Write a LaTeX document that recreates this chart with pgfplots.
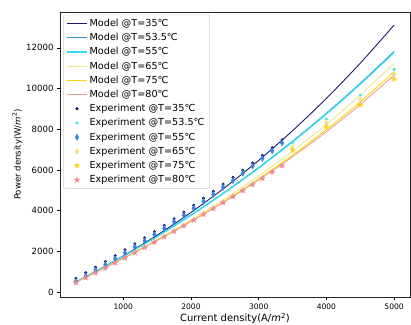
\documentclass[border=0pt]{standalone}
\usepackage{pgfplots}
\pgfplotsset{compat=1.18}
\usepackage{fontspec}
\setmainfont{DejaVu Sans}
\definecolor{m35}{HTML}{1C1C6E}
\definecolor{m535}{HTML}{2E94D0}
\definecolor{m55}{HTML}{33DDF0}
\definecolor{m65}{HTML}{F0E68C}
\definecolor{m75}{HTML}{FFD700}
\definecolor{m80}{HTML}{E8A090}
\definecolor{e35}{HTML}{101070}
\definecolor{e535}{HTML}{40E0E0}
\definecolor{e55}{HTML}{3A80E0}
\definecolor{e65}{HTML}{EEE08A}
\definecolor{e75}{HTML}{FFD020}
\definecolor{e80}{HTML}{EE8A96}
\pgfdeclareplotmark{fstar}{%
  \pgfpathmoveto{\pgfqpointpolar{90}{\pgfplotmarksize}}%
  \pgfpathlineto{\pgfqpointpolar{126}{0.42\pgfplotmarksize}}%
  \pgfpathlineto{\pgfqpointpolar{162}{\pgfplotmarksize}}%
  \pgfpathlineto{\pgfqpointpolar{198}{0.42\pgfplotmarksize}}%
  \pgfpathlineto{\pgfqpointpolar{234}{\pgfplotmarksize}}%
  \pgfpathlineto{\pgfqpointpolar{270}{0.42\pgfplotmarksize}}%
  \pgfpathlineto{\pgfqpointpolar{306}{\pgfplotmarksize}}%
  \pgfpathlineto{\pgfqpointpolar{342}{0.42\pgfplotmarksize}}%
  \pgfpathlineto{\pgfqpointpolar{18}{\pgfplotmarksize}}%
  \pgfpathlineto{\pgfqpointpolar{54}{0.42\pgfplotmarksize}}%
  \pgfpathclose
  \pgfusepathqfillstroke}
\begin{document}
\begin{tikzpicture}
\begin{axis}[
  name=ax,
  scale only axis,
  width=350bp, height=285bp,
  xmin=65, xmax=5235, ymin=-240, ymax=13760,
  xtick={1000,2000,3000,4000,5000},
  ytick={0,2000,4000,6000,8000,10000,12000},
  xtick pos=bottom, ytick pos=left,
  tick align=outside,
  major tick length=3bp,
  tick style={black, line width=0.6bp},
  axis line style={line width=0.7bp, black!85},
  scaled ticks=false,
  /pgf/number format/assume math mode=true,
  /pgf/number format/1000 sep={},
  xticklabel style={font=\fontsize{7.6}{9}\selectfont},
  yticklabel style={font=\fontsize{8.6}{9}\selectfont},
  xlabel={Current density(A/\textit{m}\textsuperscript{2})},
  ylabel={Power density(W/\textit{m}\textsuperscript{2})},
  xlabel style={font=\fontsize{10}{11}\selectfont, yshift=3bp},
  ylabel style={font=\fontsize{8.6}{10}\selectfont, yshift=-3bp},
  legend cell align=left,
  legend image code/.code={\draw[mark repeat=2,mark phase=2,#1] plot coordinates {(0bp,0bp) (10bp,0bp) (20bp,0bp)};},
  legend style={at={(0.009,0.99)}, anchor=north west, draw=black!20, rounded corners=2bp,
    fill=white,
    font=\fontsize{9.7}{10}\selectfont, row sep=1.4bp, inner xsep=3bp, inner ysep=2bp},
]
% Models
\addplot[m35, line width=0.9bp, smooth, mark=none] coordinates {
(300,500)(500,849)(1000,1778)(1500,2797)(2000,3913)(2500,5135)(3000,6471)(3500,7929)(4000,9517)(4500,11244)(5000,13118)};
\addlegendentry{Model @T=35℃}
\addplot[m535, line width=0.9bp, smooth, mark=none] coordinates {
(300,502)(500,849)(1000,1761)(1500,2741)(2000,3792)(2500,4919)(3000,6124)(3500,7414)(4000,8790)(4500,10258)(5000,11823)};
\addlegendentry{Model @T=53.5℃}
\addplot[m55, line width=1.3bp, smooth, mark=none] coordinates {
(300,500)(500,846)(1000,1754)(1500,2730)(2000,3777)(2500,4899)(3000,6100)(3500,7384)(4000,8755)(4500,10217)(5000,11776)};
\addlegendentry{Model @T=55℃}
\addplot[m65, line width=0.9bp, smooth, mark=none] coordinates {
(300,486)(500,817)(1000,1674)(1500,2581)(2000,3549)(2500,4589)(3000,5711)(3500,6926)(4000,8244)(4500,9677)(5000,11234)};
\addlegendentry{Model @T=65℃}
\addplot[m75, line width=0.9bp, smooth, mark=none] coordinates {
(300,486)(500,815)(1000,1661)(1500,2549)(2000,3489)(2500,4492)(3000,5569)(3500,6728)(4000,7984)(4500,9344)(5000,10820)};
\addlegendentry{Model @T=75℃}
\addplot[m80, line width=0.9bp, smooth, mark=none] coordinates {
(300,486)(500,815)(1000,1657)(1500,2537)(2000,3466)(2500,4454)(3000,5513)(3500,6652)(4000,7883)(4500,9215)(5000,10660)};
\addlegendentry{Model @T=80℃}
% Experiments
\addplot[only marks, mark=*, mark size=1.3bp, e35, mark options={draw=none, fill=e35}] coordinates {
(300,680)(445,950)(590,1225)(735,1505)(880,1790)(1025,2078)(1170,2370)(1315,2670)(1460,2970)(1605,3280)(1750,3600)(1895,3930)(2040,4270)(2185,4610)(2330,4950)(2475,5300)(2620,5630)(2765,5990)(2910,6350)(3055,6720)(3200,7090)(3345,7480)};
\addlegendentry{Experiment @T=35℃}
\addplot[only marks, mark=*, mark size=1.3bp, e535, mark options={draw=none, fill=e535}] coordinates {
(3500,7350)(4000,8500)(4500,9675)(5000,10940)};
\addlegendentry{Experiment @T=53.5℃}
\addplot[only marks, mark=diamond*, mark size=3.2bp, e55, mark options={draw=e55, fill=e55, line width=0.3bp, xscale=0.75}] coordinates {
(300,530)(445,800)(590,1075)(735,1355)(880,1640)(1025,1928)(1170,2220)(1315,2520)(1460,2820)(1605,3130)(1750,3450)(1895,3780)(2040,4120)(2185,4460)(2330,4800)(2475,5150)(2620,5480)(2765,5840)(2910,6200)(3055,6570)(3200,6940)(3345,7330)};
\addlegendentry{Experiment @T=55℃}
\addplot[only marks, mark=diamond*, mark size=3.2bp, e65, mark options={draw=e65, fill=e65, line width=0.3bp, xscale=0.75}] coordinates {
(3500,7100)(4000,8300)(4500,9450)(5000,10700)};
\addlegendentry{Experiment @T=65℃}
\addplot[only marks, mark=fstar, mark size=3bp, e75, mark options={draw=e75, fill=e75, line width=0.2bp}] coordinates {
(3500,6970)(4000,8116)(4500,9200)(5000,10462)};
\addlegendentry{Experiment @T=75℃}
\addplot[only marks, mark=fstar, mark size=3bp, e80, mark options={draw=e80, fill=e80, line width=0.2bp}] coordinates {
(300,471)(445,705)(590,943)(735,1184)(880,1430)(1025,1679)(1170,1933)(1315,2190)(1460,2452)(1605,2717)(1750,2986)(1895,3260)(2040,3537)(2185,3818)(2330,4103)(2475,4392)(2620,4685)(2765,4982)(2910,5283)(3055,5588)(3200,5897)(3345,6210)};
\addlegendentry{Experiment @T=80℃}
\end{axis}
\pgfresetboundingbox
\path ([xshift=-60bp,yshift=-28bp]ax.south west) rectangle ([xshift=1bp,yshift=12bp]ax.north east);
\end{tikzpicture}
\end{document}
